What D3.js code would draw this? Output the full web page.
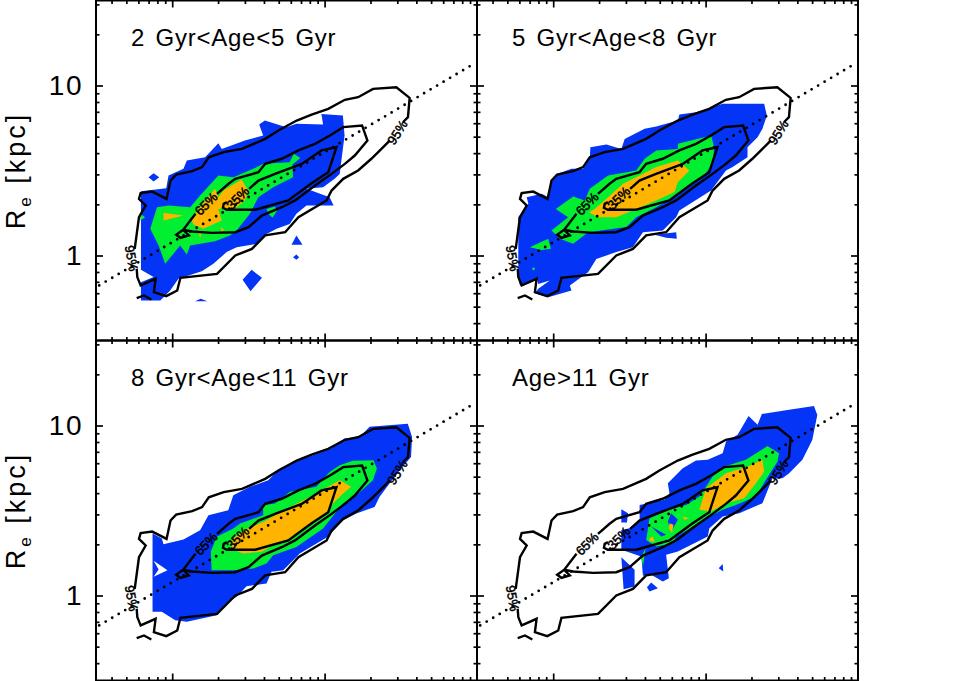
<!DOCTYPE html>
<html><head><meta charset="utf-8">
<script src="https://cdn.jsdelivr.net/npm/d3@7/dist/d3.min.js"></script>
<style>html,body{margin:0;padding:0;background:#fff}svg{display:block}text{font-family:"Liberation Sans",sans-serif;fill:#000}</style>
</head><body><svg id="c" width="954" height="681"></svg>
<script>
// All pairs are [log10 stellar mass, log10 effective radius]
const panelTitles = ["2 Gyr<Age<5 Gyr","5 Gyr<Age<8 Gyr","8 Gyr<Age<11 Gyr","Age>11 Gyr"];
const xMajor = [1e9,1e10];
const xMinor = [4e8,5e8,6e8,7e8,8e8,9e8,2e9,3e9,4e9,5e9,6e9,7e9,8e9,9e9,2e10,3e10,4e10,5e10,6e10,7e10,8e10,9e10];
const yMajor = [1,10];
const yMinor = [0.4,0.5,0.6,0.7,0.8,0.9,2,3,4,5,6,7,8,9,20,30];

const fit = [[8.521,-0.176],[10.961,1.118]];

const contour95 = [
 [[8.754,.039],[8.782,.225],[8.826,.294],[8.782,.333],[8.793,.367],[8.869,.376],[8.963,.333],[8.989,.441],[9.026,.476],[9.131,.496],[9.196,.520],[9.240,.578],[9.338,.608],[9.458,.627],[9.610,.686],[9.697,.735],[9.817,.794],[9.915,.829],[10.024,.863],[10.133,.916],[10.220,.931],[10.318,.980],[10.471,.990],[10.558,.927],[10.547,.814],[10.514,.784]],
 [[10.427,.676],[10.373,.627],[10.307,.569],[10.220,.500],[10.122,.451],[10.046,.382],[10.013,.324],[9.828,.225],[9.741,.137],[9.610,.118],[9.523,.039],[9.414,0],[9.294,-.108],[9.054,-.131],[9.033,-.206],[8.961,-.239],[8.880,-.216],[8.891,-.137],[8.793,-.176],[8.771,-.127],[8.767,-.078]],
 [[8.767,-.251],[8.815,-.235],[8.863,-.259]]
];
const contour65 = [
 [[9.153,.245],[9.072,.151],[9.109,.118],[9.054,.104],[9.026,.122],[9.072,.151],[9.131,.141],[9.261,.133],[9.414,.137],[9.501,.167],[9.588,.235],[9.719,.284],[9.806,.324],[9.937,.412],[10.046,.480],[10.133,.539],[10.198,.588],[10.281,.676],[10.246,.765],[10.122,.755],[10.035,.706],[9.937,.657],[9.828,.618],[9.719,.569],[9.610,.539],[9.566,.490],[9.414,.451],[9.370,.422],[9.294,.363]]
];
const contour35 = [
 [[9.359,.314],[9.338,.304],[9.333,.280],[9.359,.269],[9.545,.269],[9.762,.324],[9.850,.382],[9.915,.425],[10.024,.490],[10.078,.637],[9.980,.618],[9.850,.539],[9.675,.480],[9.566,.441],[9.505,.392]]
];
const contourLabels = ["95%","95%","65%","35%"];
const labelAt = [[8.734,-.016],[10.477,.725],[9.222,.304],[9.429,.339]];

const blue1 = [
 [[8.795,.378],[8.961,.396],[8.976,.470],[9.074,.510],[9.096,.559],[9.216,.578],[9.303,.661],[9.325,.627],[9.477,.676],[9.597,.706],[9.571,.771],[9.608,.794],[9.749,.755],[9.815,.775],[9.990,.771],[9.979,.833],[10.120,.824],[10.131,.706],[10.099,.480],[10.066,.451],[9.990,.402],[9.881,.392],[10.033,.343],[10.059,.294],[9.881,.294],[9.815,.245],[9.771,.186],[9.685,.157],[9.619,.127],[9.554,.069],[9.423,.049],[9.357,.020],[9.270,-.049],[9.194,-.092],[9.041,-.137],[8.987,-.206],[8.922,-.265],[8.795,-.265],[8.795,-.157],[8.878,-.127],[8.795,-.084]],
 [[8.845,.461],[8.878,.484],[8.915,.461],[8.878,.435]],
 [[9.783,.063],[9.815,.118],[9.855,.063]],
 [[9.793,-.010],[9.815,.006],[9.833,-.010],[9.815,-.025]],
 [[9.462,-.143],[9.521,-.084],[9.589,-.131],[9.514,-.210]],
 [[9.150,-.269],[9.187,-.255],[9.231,-.269]]
];
const green1 = [
 [[8.856,.157],[8.900,.284],[8.976,.294],[9.118,.284],[9.183,.353],[9.303,.470],[9.401,.461],[9.532,.510],[9.597,.539],[9.771,.549],[9.798,.598],[9.841,.574],[9.789,.535],[9.793,.461],[9.663,.402],[9.565,.343],[9.510,.245],[9.423,.147],[9.379,.118],[9.281,.084],[9.118,.059],[9.096,.006],[9.052,.059],[8.954,-.049],[8.911,.059]],
 [[9.619,.274],[9.674,.288],[9.689,.265],[9.658,.222],[9.630,.245]],
 [[8.791,.245],[8.823,.225],[8.791,.206]]
];
const orange1 = [
 [[9.129,.206],[9.172,.274],[9.281,.392],[9.303,.343],[9.336,.382],[9.455,.447],[9.499,.382],[9.477,.324],[9.423,.284],[9.303,.274],[9.325,.206],[9.205,.157],[9.139,.182]],
 [[8.943,.251],[9.074,.235],[8.943,.206]],
 [[9.172,.147],[9.194,.147],[9.183,.098]],
 [[9.318,.167],[9.340,.151],[9.325,.137]]
];

const blue2 = [
 [[8.771,.225],[8.837,.304],[8.826,.343],[8.924,.363],[8.967,.343],[9,.461],[9.026,.480],[9.120,.510],[9.196,.510],[9.240,.569],[9.244,.637],[9.349,.653],[9.447,.627],[9.469,.686],[9.600,.745],[9.676,.759],[9.818,.794],[9.828,.829],[9.937,.843],[10.112,.892],[10.384,.892],[10.402,.824],[10.373,.745],[10.341,.696],[10.275,.637],[10.275,.578],[10.177,.520],[10.134,.500],[10.036,.382],[9.828,.265],[9.807,.225],[9.719,.147],[9.589,.137],[9.523,.049],[9.414,.020],[9.283,-.020],[9.229,-.098],[9.109,-.176],[9.120,-.206],[8.967,-.245],[8.880,-.222],[8.902,-.196],[8.978,-.147],[8.902,-.167],[8.891,-.131],[8.782,-.176],[8.771,-.127]],
 [[9.665,.122],[9.807,.137],[9.811,.098],[9.741,.104]]
];
const green2 = [
 [[9.017,.274],[9.131,.347],[9.207,.324],[9.240,.392],[9.360,.470],[9.545,.500],[9.600,.569],[9.676,.618],[9.818,.627],[9.818,.657],[10.036,.706],[10.057,.637],[10.046,.539],[9.981,.461],[9.872,.392],[9.774,.333],[9.654,.274],[9.545,.225],[9.480,.167],[9.229,.137],[9.131,.069],[9.044,.098],[8.989,.147],[9.098,.225]],
 [[8.847,.049],[8.967,.098],[8.985,.039],[8.924,.033]],
 [[8.860,-.078],[8.871,-.069],[8.882,-.078],[8.871,-.088]]
];
const orange2 = [
 [[9.272,.274],[9.360,.343],[9.458,.422],[9.545,.461],[9.676,.520],[9.818,.559],[9.894,.500],[9.818,.431],[9.796,.373],[9.676,.324],[9.545,.274],[9.414,.225],[9.294,.225],[9.235,.255]]
];

const blue3 = [
 [[8.871,.365],[8.932,.335],[8.943,.302],[9.074,.329],[9.183,.384],[9.238,.472],[9.368,.502],[9.401,.590],[9.510,.639],[9.630,.678],[9.706,.747],[9.826,.796],[9.924,.825],[10.044,.864],[10.131,.923],[10.230,.933],[10.295,.992],[10.546,1.011],[10.574,.933],[10.567,.815],[10.502,.747],[10.426,.659],[10.360,.580],[10.328,.521],[10.208,.482],[10.121,.443],[10.022,.345],[9.837,.247],[9.794,.208],[9.728,.149],[9.652,.139],[9.619,.071],[9.488,.055],[9.423,-.008],[9.368,-.037],[9.292,-.116],[9.096,-.155],[9.020,-.145],[8.932,-.096],[8.871,-.096]],
 [[8.878,.204],[8.969,.149],[8.878,.110],[8.911,.153]]
];
const green3 = [
 [[9.253,.257],[9.292,.345],[9.401,.394],[9.445,.423],[9.597,.472],[9.597,.531],[9.674,.541],[9.772,.610],[9.946,.639],[10.033,.727],[10.099,.766],[10.186,.792],[10.321,.796],[10.343,.747],[10.317,.678],[10.208,.590],[10.121,.541],[10.033,.443],[9.990,.394],[9.815,.286],[9.663,.237],[9.619,.188],[9.532,.159],[9.401,.149],[9.259,.149]]
];
const orange3 = [
 [[9.401,.267],[9.379,.316],[9.467,.384],[9.597,.433],[9.772,.521],[9.903,.580],[10.099,.678],[10.175,.639],[10.121,.600],[10.055,.541],[10.022,.482],[9.924,.423],[9.794,.345],[9.663,.296],[9.586,.257],[9.467,.247]]
];

const blue4 = [
 [[9.447,.386],[9.501,.396],[9.567,.445],[9.567,.533],[9.730,.563],[9.763,.602],[9.752,.661],[9.850,.749],[9.937,.794],[10.014,.798],[10.112,.837],[10.134,.906],[10.210,.945],[10.282,1.056],[10.341,1.004],[10.369,1.068],[10.548,1.092],[10.711,1.115],[10.733,1.062],[10.700,.915],[10.635,.798],[10.548,.719],[10.504,.690],[10.439,.690],[10.373,.543],[10.221,.484],[10.112,.465],[10.025,.396],[10.014,.347],[9.818,.259],[9.741,.239],[9.759,.102],[9.719,.082],[9.643,.122],[9.589,.116],[9.578,.229],[9.447,.269]],
 [[9.447,.508],[9.491,.484],[9.484,.429],[9.447,.429]],
 [[9.447,.225],[9.534,.151],[9.534,.053],[9.462,.037]],
 [[9.615,.049],[9.643,.076],[9.687,.043],[9.632,.024]],
 [[10.086,.161],[10.112,.186],[10.116,.141]]
];
const green4 = [
 [[9.610,.327],[9.632,.455],[9.763,.504],[9.872,.533],[9.959,.582],[10.003,.641],[10.046,.700],[10.134,.762],[10.264,.798],[10.406,.880],[10.482,.837],[10.472,.788],[10.395,.680],[10.330,.582],[10.199,.533],[10.112,.504],[10.025,.465],[9.937,.416],[9.807,.347],[9.785,.308],[9.676,.288]],
 [[9.643,.406],[9.741,.357],[9.709,.347]],
 [[9.774,.484],[9.818,.445],[9.774,.376],[9.752,.435]],
 [[9.578,.229],[9.606,.278],[9.589,.171]]
];
const orange4 = [
 [[9.959,.504],[10.003,.631],[10.134,.719],[10.286,.762],[10.373,.798],[10.384,.729],[10.330,.661],[10.254,.572],[10.134,.543],[10.036,.494]],
 [[9.632,.337],[9.654,.347],[9.665,.318],[9.632,.318]],
 [[9.763,.425],[9.789,.416],[9.780,.367],[9.759,.396]],
 [[9.850,.465],[9.894,.455],[9.861,.445]]
];
const panelFills = [[blue1,green1,orange1],[blue2,green2,orange2],[blue3,green3,orange3],[blue4,green4,orange4]];
const fillColors = ["#0434f5","#02ee30","#ffb400"];

const W=381, H=340, left=96, top0=0.5;
const x = d3.scaleLog().domain([10**8.5,1e11]).range([0,W]);
const y = d3.scaleLog().domain([10**-0.5,10**1.5]).range([H,0]);
const line = d3.line().x(d=>x(10**d[0])).y(d=>y(10**d[1]));
const svg = d3.select("#c");
const defs = svg.append("defs");
defs.append("clipPath").attr("id","pc").append("rect").attr("width",W).attr("height",H);

panelTitles.forEach((title,i)=>{
  const col=i%2, row=Math.floor(i/2);
  const g = svg.append("g").attr("transform",`translate(${left+col*W},${top0+row*H})`);
  const plot = g.append("g").attr("clip-path","url(#pc)");
  panelFills[i].forEach((polys,k)=>{
    plot.append("path")
      .attr("d",polys.map(p=>line(p)+"Z").join(""))
      .attr("fill",fillColors[k]).attr("fill-rule","evenodd");
  });
  plot.append("path").attr("d",line(fit)).attr("fill","none").attr("stroke","#000")
    .attr("stroke-width",2.8).attr("stroke-linecap","round").attr("stroke-dasharray","0 7.55");
  [contour95,contour65,contour35].forEach(segs=>segs.forEach(s=>{
    plot.append("path").attr("d",line(s)).attr("fill","none").attr("stroke","#000")
      .attr("stroke-width",2.4).attr("stroke-linejoin","miter");
  }));
  const rots=[80,-58,-45,-45];
  contourLabels.forEach((t,j)=>{
    g.append("text").attr("transform",`translate(${x(10**labelAt[j][0])},${y(10**labelAt[j][1])}) rotate(${rots[j]})`)
      .attr("text-anchor","middle").attr("dy","0.36em").attr("font-size",13).attr("stroke","#000").attr("stroke-width",0.5).text(t);
  });
  g.append("text").attr("x",35).attr("y",45).attr("font-size",24).attr("letter-spacing",0.75).attr("word-spacing",3).text(title);
  g.append("rect").attr("width",W).attr("height",H).attr("fill","none").attr("stroke","#000").attr("stroke-width",2);
  const put=(axis,tx,ty,vals,size,fmt)=>{
    const a=g.append("g").attr("transform",`translate(${tx},${ty})`)
      .call(axis.tickValues(vals).tickSize(size).tickSizeOuter(0).tickFormat(fmt||(()=>"")));
    a.select(".domain").remove();
    a.selectAll("line").attr("stroke","#000").attr("stroke-width",1.7);
    return a;
  };
  put(d3.axisTop(x),0,0,xMajor,-7);put(d3.axisTop(x),0,0,xMinor,-3.5);
  put(d3.axisBottom(x),0,H,xMajor,-7);put(d3.axisBottom(x),0,H,xMinor,-3.5);
  put(d3.axisRight(y),W,0,yMajor,-7);put(d3.axisRight(y),W,0,yMinor,-3.5);
  const la=put(d3.axisLeft(y).tickPadding(13),0,0,yMajor,-7,col===0?d3.format("d"):null);
  put(d3.axisLeft(y),0,0,yMinor,-3.5);
  la.selectAll("text").attr("font-size",28).style("font-family",'"Liberation Sans",sans-serif').attr("letter-spacing",1.5).attr("font-weight",300);
  if(col===0){
    g.append("text").attr("transform",`translate(-71.5,${y(3.16)}) rotate(-90)`).attr("text-anchor","middle")
      .attr("font-size",27).style("white-space","pre").attr("letter-spacing",3)
      .html('R<tspan font-size="17" dy="6">e</tspan><tspan dy="-6"> [kpc]</tspan>');
  }
});
</script></body></html>
